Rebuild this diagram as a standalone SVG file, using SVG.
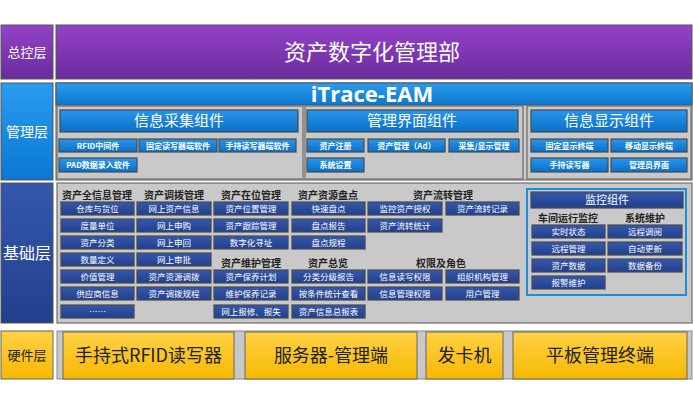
<svg xmlns="http://www.w3.org/2000/svg" width="693" height="409" viewBox="0 0 693 409">
<defs>
<linearGradient id="gPurple" x1="0" y1="0" x2="0" y2="1"><stop offset="0" stop-color="#9343c8"/><stop offset="1" stop-color="#6b2b9c"/></linearGradient>
<linearGradient id="gBlue" x1="0" y1="0" x2="0" y2="1"><stop offset="0" stop-color="#2a9cf0"/><stop offset="1" stop-color="#0a78d2"/></linearGradient>
<linearGradient id="gBtn" x1="0" y1="0" x2="0" y2="1"><stop offset="0" stop-color="#2896ec"/><stop offset="1" stop-color="#0b6fc8"/></linearGradient>
<linearGradient id="gNavy" x1="0" y1="0" x2="0" y2="1"><stop offset="0" stop-color="#3558ad"/><stop offset="1" stop-color="#223f8c"/></linearGradient>
<linearGradient id="gYellow" x1="0" y1="0" x2="0" y2="1"><stop offset="0" stop-color="#ffd246"/><stop offset="1" stop-color="#f6b800"/></linearGradient>
</defs>
<style>
text{font-family:"Noto Sans CJK SC","Noto Sans",sans-serif;text-anchor:middle}
.lay{stroke:#555;stroke-width:1}
.pan{fill:#c9c9c9;stroke:#6e6e6e;stroke-width:1.2}
.mb{fill:url(#gBtn);stroke:#4a4a4a;stroke-width:1.2}
.nb{fill:url(#gNavy);stroke:#4a4a4a;stroke-width:1.2}
.hw{fill:url(#gYellow);stroke:#666;stroke-width:1}
.wt{fill:#fff}
.mt{fill:#fff;font-size:8px;font-weight:bold}
.bt{fill:#fff;font-size:8.5px}
.gt{fill:#222;font-size:10px;font-weight:bold}
.ht{fill:#222;font-size:18px}
</style>

<g id="layer-top">
<rect class="lay" x="1" y="25" width="52" height="54" fill="url(#gPurple)"/>
<text class="wt" x="27" y="57" font-size="13">总控层</text>
<rect class="lay" x="56" y="25" width="636" height="54" fill="url(#gPurple)"/>
<text class="wt" x="372" y="60" font-size="22">资产数字化管理部</text>
</g>

<g id="layer-mgmt">
<rect class="lay" x="1" y="83" width="52" height="97" fill="url(#gBlue)"/>
<text class="wt" x="27" y="137" font-size="14">管理层</text>
<rect class="pan" x="56" y="83" width="636" height="97"/>
<rect class="lay" x="56" y="83" width="636" height="22" fill="url(#gBlue)"/>
<text class="wt" x="372" y="102" font-size="22" font-weight="bold" style="font-family:'Open Sans','Liberation Sans',sans-serif">iTrace-EAM</text>
</g>

<g id="panel-collect">
<rect class="pan" x="57" y="106" width="246" height="73"/>
<rect class="mb" x="60" y="110" width="238" height="22"/>
<text class="wt" x="179" y="126" font-size="15">信息采集组件</text>
<rect class="mb" x="59" y="139" width="78" height="13"/><text class="mt" x="98" y="148.5">RFID中间件</text>
<rect class="mb" x="139" y="139" width="78" height="13"/><text class="mt" x="178" y="148.5">固定读写器端软件</text>
<rect class="mb" x="219" y="139" width="77" height="13"/><text class="mt" x="257.5" y="148.5">手持读写器端软件</text>
<rect class="mb" x="59" y="158" width="78" height="14"/><text class="mt" x="98" y="168">PAD数据录入软件</text>
</g>

<g id="panel-ui">
<rect class="pan" x="305" y="106" width="218" height="73"/>
<rect class="mb" x="307" y="110" width="211" height="22"/>
<text class="wt" x="412" y="126" font-size="15">管理界面组件</text>
<rect class="mb" x="307" y="139" width="57" height="13"/><text class="mt" x="335.5" y="148.5">资产注册</text>
<rect class="mb" x="368" y="139" width="77" height="13"/><text class="mt" x="406.5" y="148.5">资产管理（Ad）</text>
<rect class="mb" x="449" y="139" width="70" height="13"/><text class="mt" x="484" y="148.5">采集/显示管理</text>
<rect class="mb" x="307" y="158" width="57" height="14"/><text class="mt" x="335.5" y="168">系统设置</text>
</g>

<g id="panel-display">
<rect class="pan" x="527" y="106" width="164" height="73"/>
<rect class="mb" x="531" y="110" width="156" height="22"/>
<text class="wt" x="609" y="126" font-size="15">信息显示组件</text>
<rect class="mb" x="531" y="139" width="77" height="13"/><text class="mt" x="569.5" y="148.5">固定显示终端</text>
<rect class="mb" x="611" y="139" width="76" height="13"/><text class="mt" x="649" y="148.5">移动显示终端</text>
<rect class="mb" x="531" y="158" width="77" height="14"/><text class="mt" x="569.5" y="168">手持读写器</text>
<rect class="mb" x="611" y="158" width="76" height="14"/><text class="mt" x="649" y="168">管理员界面</text>
</g>

<g id="layer-base">
<rect class="lay" x="1" y="183" width="52" height="140" fill="url(#gNavy)"/>
<text class="wt" x="27" y="259" font-size="16">基础层</text>
<rect class="pan" x="57" y="183" width="635" height="140"/>
<text class="gt" x="97" y="198.5">资产全信息管理</text>
<text class="gt" x="174" y="198.5">资产调拨管理</text>
<text class="gt" x="251" y="198.5">资产在位管理</text>
<text class="gt" x="328" y="198.5">资产资源盘点</text>
<text class="gt" x="443" y="198.5">资产流转管理</text>
<text class="gt" x="251" y="266.5">资产维护管理</text>
<text class="gt" x="328" y="266.5">资产总览</text>
<text class="gt" x="441" y="266.5">权限及角色</text>
</g>

<g id="group-info">
<rect class="nb" x="61" y="202" width="73" height="13"/><text class="bt" x="97.5" y="211.5">仓库与货位</text>
<rect class="nb" x="61" y="219" width="73" height="13"/><text class="bt" x="97.5" y="228.5">度量单位</text>
<rect class="nb" x="61" y="236" width="73" height="13"/><text class="bt" x="97.5" y="245.5">资产分类</text>
<rect class="nb" x="61" y="253" width="73" height="13"/><text class="bt" x="97.5" y="262.5">数量定义</text>
<rect class="nb" x="61" y="270" width="73" height="13"/><text class="bt" x="97.5" y="279.5">价值管理</text>
<rect class="nb" x="61" y="287" width="73" height="13"/><text class="bt" x="97.5" y="296.5">供应商信息</text>
<rect class="nb" x="61" y="305" width="73" height="13"/><text class="bt" x="97.5" y="314.5">……</text>
</g>

<g id="group-transfer">
<rect class="nb" x="137" y="202" width="74" height="13"/><text class="bt" x="174" y="211.5">网上资产信息</text>
<rect class="nb" x="137" y="219" width="74" height="13"/><text class="bt" x="174" y="228.5">网上申购</text>
<rect class="nb" x="137" y="236" width="74" height="13"/><text class="bt" x="174" y="245.5">网上申回</text>
<rect class="nb" x="137" y="253" width="74" height="13"/><text class="bt" x="174" y="262.5">网上审批</text>
<rect class="nb" x="137" y="270" width="74" height="13"/><text class="bt" x="174" y="279.5">资产资源调拨</text>
<rect class="nb" x="137" y="287" width="74" height="13"/><text class="bt" x="174" y="296.5">资产调拨规程</text>
</g>

<g id="group-location">
<rect class="nb" x="214" y="202" width="74" height="13"/><text class="bt" x="251" y="211.5">资产位置管理</text>
<rect class="nb" x="214" y="219" width="74" height="13"/><text class="bt" x="251" y="228.5">资产跟踪管理</text>
<rect class="nb" x="214" y="236" width="74" height="13"/><text class="bt" x="251" y="245.5">数字化寻址</text>
</g>

<g id="group-maint">
<rect class="nb" x="214" y="270" width="74" height="13"/><text class="bt" x="251" y="279.5">资产保养计划</text>
<rect class="nb" x="214" y="287" width="74" height="13"/><text class="bt" x="251" y="296.5">维护保养记录</text>
<rect class="nb" x="214" y="305" width="74" height="13"/><text class="bt" x="251" y="314.5">网上报修、报失</text>
</g>

<g id="group-inventory">
<rect class="nb" x="292" y="202" width="73" height="13"/><text class="bt" x="328.5" y="211.5">快速盘点</text>
<rect class="nb" x="292" y="219" width="73" height="13"/><text class="bt" x="328.5" y="228.5">盘点报告</text>
<rect class="nb" x="292" y="236" width="73" height="13"/><text class="bt" x="328.5" y="245.5">盘点规程</text>
</g>

<g id="group-overview">
<rect class="nb" x="292" y="270" width="73" height="13"/><text class="bt" x="328.5" y="279.5">分类分级报告</text>
<rect class="nb" x="292" y="287" width="73" height="13"/><text class="bt" x="328.5" y="296.5">按条件统计查看</text>
<rect class="nb" x="292" y="305" width="73" height="13"/><text class="bt" x="328.5" y="314.5">资产信息总报表</text>
</g>

<g id="group-flow">
<rect class="nb" x="368" y="202" width="74" height="13"/><text class="bt" x="405" y="211.5">监控资产授权</text>
<rect class="nb" x="368" y="219" width="74" height="13"/><text class="bt" x="405" y="228.5">资产流转统计</text>
<rect class="nb" x="446" y="202" width="73" height="13"/><text class="bt" x="482.5" y="211.5">资产流转记录</text>
</g>

<g id="group-auth">
<rect class="nb" x="368" y="270" width="74" height="13"/><text class="bt" x="405" y="279.5">信息读写权限</text>
<rect class="nb" x="368" y="287" width="74" height="13"/><text class="bt" x="405" y="296.5">信息管理权限</text>
<rect class="nb" x="446" y="270" width="73" height="13"/><text class="bt" x="482.5" y="279.5">组织机构管理</text>
<rect class="nb" x="446" y="287" width="73" height="13"/><text class="bt" x="482.5" y="296.5">用户管理</text>
</g>

<g id="group-monitor">
<rect x="527" y="189" width="159" height="106" fill="none" stroke="#1a8fe0" stroke-width="2"/>
<rect class="nb" x="531" y="192" width="152" height="16"/>
<text class="wt" x="607" y="204" font-size="11">监控组件</text>
<text class="gt" x="568" y="221.5">车间运行监控</text>
<text class="gt" x="645" y="221.5">系统维护</text>
<rect class="nb" x="532" y="225" width="73" height="13"/><text class="bt" x="568.5" y="234.5">实时状态</text>
<rect class="nb" x="532" y="242" width="73" height="13"/><text class="bt" x="568.5" y="251.5">远程管理</text>
<rect class="nb" x="532" y="259" width="73" height="13"/><text class="bt" x="568.5" y="268.5">资产数据</text>
<rect class="nb" x="532" y="276" width="73" height="13"/><text class="bt" x="568.5" y="285.5">报警维护</text>
<rect class="nb" x="608" y="225" width="74" height="13"/><text class="bt" x="645" y="234.5">远程调阅</text>
<rect class="nb" x="608" y="242" width="74" height="13"/><text class="bt" x="645" y="251.5">自动更新</text>
<rect class="nb" x="608" y="259" width="74" height="13"/><text class="bt" x="645" y="268.5">数据备份</text>
</g>

<g id="layer-hw">
<rect class="hw" x="1" y="331" width="52" height="48"/>
<text x="27" y="360" font-size="13" fill="#222">硬件层</text>
<rect x="57" y="331" width="635" height="48" fill="#c8c8c8" stroke="#888"/>
</g>
<g id="hw-rfid"><rect class="hw" x="63" y="332" width="171" height="47"/><text class="ht" x="148.5" y="362">手持式RFID读写器</text></g>
<g id="hw-server"><rect class="hw" x="245" y="332" width="172" height="47"/><text class="ht" x="331" y="362">服务器-管理端</text></g>
<g id="hw-card"><rect class="hw" x="426" y="332" width="77" height="47"/><text class="ht" x="464.5" y="362">发卡机</text></g>
<g id="hw-tablet"><rect class="hw" x="513" y="332" width="174" height="47"/><text class="ht" x="600" y="362">平板管理终端</text></g>

<g id="connectors"/>
</svg>
